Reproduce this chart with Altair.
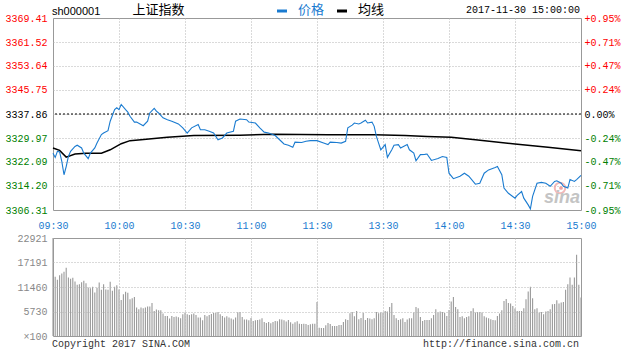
import json
import altair as alt
import pandas as pd

# ---------------- data ----------------
PREV_CLOSE = 3337.86

time_ticks = [0, 30, 60, 90, 120, 150, 180, 210, 240]
time_labels = ["09:30", "10:00", "10:30", "11:00", "11:30", "13:30", "14:00", "14:30", "15:00"]

price_ticks = [3306.31, 3314.20, 3322.09, 3329.97, 3337.86, 3345.75, 3353.64, 3361.52, 3369.41]
pct_labels = ["-0.95%", "-0.71%", "-0.47%", "-0.24%", "0.00%", "+0.24%", "+0.47%", "+0.71%", "+0.95%"]

vol_ticks = [0, 5730, 11460, 17191, 22921]
vol_labels = ["×100", "5730", "11460", "17191", "22921"]

price_idx = [0, 1, 2, 3, 4, 5, 6, 7, 8, 10,
             11, 13, 14, 16, 17, 19, 20, 22, 23, 25,
             26, 28, 29, 30, 31, 33, 34, 35, 37, 38,
             40, 41, 43, 44, 46, 47, 48, 50, 52, 54,
             57, 59, 61, 63, 66, 67, 69, 71, 73, 75,
             77, 79, 82, 83, 85, 88, 89, 92, 94, 96,
             98, 101, 103, 105, 107, 109, 110, 113, 115, 117,
             120, 123, 125, 126, 129, 131, 133, 134, 136, 137,
             139, 140, 142, 143, 145, 146, 147, 148, 149, 151,
             152, 154, 155, 157, 158, 161, 162, 164, 165, 167,
             169, 170, 172, 175, 177, 179, 180, 182, 185, 187,
             189, 192, 194, 196, 198, 201, 202, 204, 205, 207,
             210, 211, 213, 214, 216, 217, 218, 220, 222, 224,
             226, 228, 229, 231, 232, 234, 235, 237, 238, 240]
price_val = [3325.0, 3323.6, 3325.6, 3325.4, 3322.3, 3317.9, 3320.6, 3323.9, 3325.6, 3327.2,
             3327.6, 3326.7, 3325.0, 3323.2, 3325.0, 3326.7, 3328.3, 3331.1, 3331.6, 3332.4,
             3335.5, 3339.3, 3339.9, 3339.3, 3341.0, 3339.3, 3338.5, 3337.1, 3335.2, 3335.2,
             3334.4, 3334.0, 3335.5, 3338.2, 3339.7, 3338.8, 3338.2, 3336.6, 3336.0, 3335.5,
             3334.6, 3333.3, 3331.6, 3333.3, 3334.4, 3332.7, 3332.7, 3332.2, 3331.6, 3329.4,
             3330.0, 3331.6, 3332.2, 3335.5, 3336.2, 3336.0, 3335.2, 3334.9, 3333.3, 3331.9,
             3331.6, 3330.8, 3329.4, 3328.0, 3327.6, 3326.9, 3328.6, 3328.5, 3328.9, 3329.1,
             3329.1, 3328.3, 3327.8, 3328.6, 3328.5, 3328.3, 3328.9, 3333.3, 3334.2, 3334.9,
             3334.6, 3334.9, 3335.8, 3334.9, 3335.2, 3333.8, 3330.5, 3328.3, 3326.1, 3327.8,
             3323.6, 3326.1, 3327.6, 3327.8, 3326.7, 3327.8, 3326.1, 3325.0, 3322.5, 3324.5,
             3324.6, 3324.7, 3322.6, 3323.2, 3323.9, 3323.6, 3318.4, 3316.6, 3317.4, 3318.4,
             3317.4, 3314.8, 3315.1, 3318.4, 3319.5, 3320.3, 3320.6, 3317.9, 3313.5, 3311.8,
             3310.2, 3311.1, 3312.4, 3310.2, 3308.0, 3306.7, 3310.8, 3315.1, 3315.4, 3315.1,
             3314.1, 3315.7, 3315.9, 3315.1, 3314.1, 3313.5, 3316.3, 3315.7, 3316.3, 3317.7]

avg_idx = [0, 3, 6, 10, 15, 22, 26, 31, 35, 40, 46, 52, 64, 85, 100, 125, 146, 160, 170, 181, 192, 210, 225, 240]
avg_val = [3326.7, 3325.9, 3323.7, 3324.7, 3325.0, 3325.0, 3326.1, 3328.1, 3329.1, 3329.4, 3329.8,
           3330.2, 3330.8, 3330.9, 3331.2, 3331.0, 3331.0, 3330.8, 3330.5, 3330.2, 3329.4, 3328.0,
           3326.9, 3325.8]

volume = [22921, 13841, 13138, 14232, 14623, 15014, 15953, 13685, 13372, 13607,
          12747, 11965, 12121, 12590, 12903, 12356, 11339, 11183, 11495, 10166,
          11261, 12512, 10792, 12121, 10870, 10792, 12668, 10557, 11495, 11886,
          10870, 8446, 9775, 10322, 10088, 8602, 8837, 9149, 6647, 6256,
          6647, 6491, 6647, 6882, 6882, 7742, 5865, 6178, 6021, 6021,
          5239, 4692, 4692, 4066, 4692, 4457, 4536, 4379, 4145, 5083,
          5474, 5083, 4927, 5083, 5239, 4927, 4301, 4301, 3675, 4927,
          4614, 4927, 5161, 5396, 5396, 5630, 5083, 4692, 4301, 4614,
          4301, 4066, 3832, 4301, 5552, 5630, 4457, 3832, 3832, 3675,
          4223, 3519, 3675, 3754, 3832, 4145, 3284, 3050, 3284, 2972,
          3284, 3519, 3441, 3910, 3832, 3675, 3363, 3754, 3206, 2893,
          3206, 3441, 2893, 2815, 2893, 2815, 2581, 2737, 2893, 2893,
          7976, 1955, 1880, 1880, 2502, 3050, 2815, 2346, 2346, 2346,
          2581, 2581, 3284, 3910, 3754, 5318, 5630, 4614, 5865, 3910,
          4223, 5396, 3754, 4223, 4066, 3910, 4145, 5630, 5318, 5474,
          5474, 5865, 5709, 6803, 7742, 4927, 4145, 3754, 3910, 4145,
          3284, 3832, 4145, 4145, 5474, 6803, 6491, 4457, 3519, 3754,
          3754, 3754, 4145, 4927, 6256, 5474, 5709, 5630, 5396, 4692,
          6100, 8055, 9149, 6803, 6256, 4457, 4614, 4145, 4457, 4614,
          5865, 6491, 5474, 5630, 5630, 5474, 4614, 4301, 4145, 3910,
          3754, 3675, 4692, 5239, 6021, 8211, 8680, 7742, 7585, 7038,
          6412, 5865, 5865, 5865, 6491, 8602, 10401, 11495, 8837, 6256,
          6491, 5474, 5630, 5083, 5709, 5865, 6256, 7429, 7507, 8367,
          7585, 7820, 7976, 10792, 12121, 13685, 11965, 13685, 19003, 12000,
          9000]

# ---------------- styling ----------------
MONO = "Liberation Mono"
SANS = "Liberation Sans"
CJK = "Noto Sans CJK SC"
BLUE = "#1a7bd0"
GRID = "#b4b4b4"
FRAME = "#999999"

price_df = pd.DataFrame({"i": price_idx, "p": price_val})
avg_df = pd.DataFrame({"i": avg_idx, "p": avg_val})
vol_df = pd.DataFrame({"i": list(range(len(volume))), "v": volume})
base_df = pd.DataFrame({"p": [PREV_CLOSE]})
one = pd.DataFrame({"k": [0]})


def lookup(labels, ticks):
    return f"{json.dumps(labels, ensure_ascii=False)}[indexof({json.dumps(ticks)}, datum.value)]"


color_expr = (f"datum.value > {PREV_CLOSE + 0.005} ? '#ff0000' : "
              f"(datum.value < {PREV_CLOSE - 0.005} ? '#008000' : '#000000')")

xs = alt.Scale(domain=[0, 240], nice=False, zero=False)
ys = alt.Scale(domain=[price_ticks[0], price_ticks[-1]], nice=False, zero=False)
vs = alt.Scale(domain=[0, vol_ticks[-1]], nice=False, zero=True)

x_axis_top = alt.Axis(values=time_ticks, labelExpr=lookup(time_labels, time_ticks),
                      grid=True, gridColor=GRID, gridDash=[1, 2],
                      gridOpacity={"expr": "datum.value <= 0 || datum.value >= 240 ? 0 : 1"},
                      ticks=False, tickSize=0, domain=False, labelColor=BLUE, labelFont=MONO,
                      labelFontSize=10, labelPadding=10, labelFlush=False, labelOverlap=False,
                      labelBound=False, title=None)

left_axis = alt.Axis(values=price_ticks, format=".2f", orient="left", grid=True, gridColor=GRID,
                     gridDash=[1, 2],
                     gridOpacity={"expr": f"datum.value <= {price_ticks[0] + 0.01} || datum.value >= {price_ticks[-1] - 0.01} ? 0 : 1"},
                     ticks=False, tickSize=0, domain=False, labelColor={"expr": color_expr},
                     labelFont=MONO, labelFontSize=10, labelPadding=6, labelBaseline="middle",
                     labelOverlap=False, labelBound=False, labelFlush=False, title=None)

right_axis = alt.Axis(values=price_ticks, labelExpr=lookup(pct_labels, price_ticks), orient="right",
                      grid=False, ticks=False, tickSize=0, domain=False,
                      labelColor={"expr": color_expr}, labelFont=MONO, labelFontSize=10,
                      labelPadding=3, labelBaseline="middle", labelAlign="left",
                      labelOverlap=False, labelBound=False, labelFlush=False, title=None)


def label(text, x, y, color="#000000", font=MONO, size=10, align="left", **kw):
    return alt.Chart(pd.DataFrame({"t": [text]})).mark_text(
        align=align, baseline="middle", font=font, fontSize=size, color=color, **kw
    ).encode(text="t:N", x=alt.value(x), y=alt.value(y))


def dash(x1, x2, y, color):
    return alt.Chart(one).mark_rule(color=color, strokeWidth=3).encode(
        x=alt.value(x1), x2=alt.value(x2), y=alt.value(y))


anchor = alt.Chart(one).mark_rule(strokeOpacity=0, strokeWidth=0).encode(
    x=alt.value(-52), x2=alt.value(0), y=alt.value(-17), y2=alt.value(-17))

watermark = label("sina", 509, 180, color="#c4c4c4", font=SANS, size=18, align="center",
                  fontStyle="italic", fontWeight="bold")
logo_ring = alt.Chart(one).mark_point(shape="circle", size=110, color="#f0a8a8", strokeWidth=2,
                                      opacity=0.8).encode(x=alt.value(507), y=alt.value(170))
logo_dot = alt.Chart(one).mark_point(shape="circle", size=14, color="#e88a8a", filled=True,
                                     opacity=0.8).encode(x=alt.value(508), y=alt.value(170))

price_line = alt.Chart(price_df).mark_line(color=BLUE, strokeWidth=1.1).encode(
    x=alt.X("i:Q", scale=xs, axis=x_axis_top),
    y=alt.Y("p:Q", scale=ys, axis=left_axis))

avg_line = alt.Chart(avg_df).mark_line(color="#000000", strokeWidth=1.5).encode(
    x=alt.X("i:Q", scale=xs, axis=x_axis_top),
    y=alt.Y("p:Q", scale=ys, axis=None))

base_line = alt.Chart(base_df).mark_rule(color="#000000", strokeDash=[2, 2], strokeWidth=1).encode(
    y=alt.Y("p:Q", scale=ys, axis=right_axis))

top = alt.layer(
    anchor,
    logo_ring,
    logo_dot,
    watermark,
    base_line,
    avg_line,
    price_line,
    label("sh000001", -1, -6.5, font=SANS, size=11),
    label("上证指数", 79.5, -8, font=CJK, size=13),
    dash(224, 234, -7, BLUE),
    label("价格", 245, -8, color=BLUE, font=CJK, size=13),
    dash(284, 294, -7, "#000000"),
    label("均线", 305, -8, font=CJK, size=13),
    label("2017-11-30 15:00:00", 527, -8, align="right"),
).resolve_axis(y="independent").properties(width=528, height=192)

x_axis_bot = alt.Axis(values=time_ticks[1:-1], grid=True, gridColor=GRID, gridDash=[1, 2],
                      labels=False, ticks=False, tickSize=0, domain=False, title=None, zindex=1)

vol_axis = alt.Axis(values=vol_ticks, labelExpr=lookup(vol_labels, vol_ticks), grid=True,
                    gridColor=GRID, gridDash=[1, 2],
                    gridOpacity={"expr": f"datum.value <= 0 || datum.value >= {vol_ticks[-1]} ? 0 : 1"},
                    ticks=False, tickSize=0, domain=False, labelColor="#888888", labelFont=MONO,
                    labelFontSize=10, labelPadding=6, labelBaseline="middle", labelOverlap=False,
                    labelBound=False, labelFlush=False, title=None, zindex=1)

bars = alt.Chart(vol_df).mark_rule(color="#999999", strokeWidth=1.1).encode(
    x=alt.X("i:Q", scale=xs, axis=x_axis_bot),
    y=alt.Y("v:Q", scale=vs, axis=vol_axis),
    y2=alt.datum(0))

bottom = alt.layer(
    bars,
    label("Copyright 2017 SINA.COM", -1, 106, color="#333333"),
    label("http://finance.sina.com.cn", 526, 106, color="#333333", align="right"),
).properties(width=528, height=98)

chart = alt.vconcat(top, bottom, spacing=28, bounds="flush").properties(
    padding=0, background="white"
).configure_view(stroke=FRAME, strokeWidth=1)

chart.save("out.html", embed_options={"renderer": "svg", "actions": False})
